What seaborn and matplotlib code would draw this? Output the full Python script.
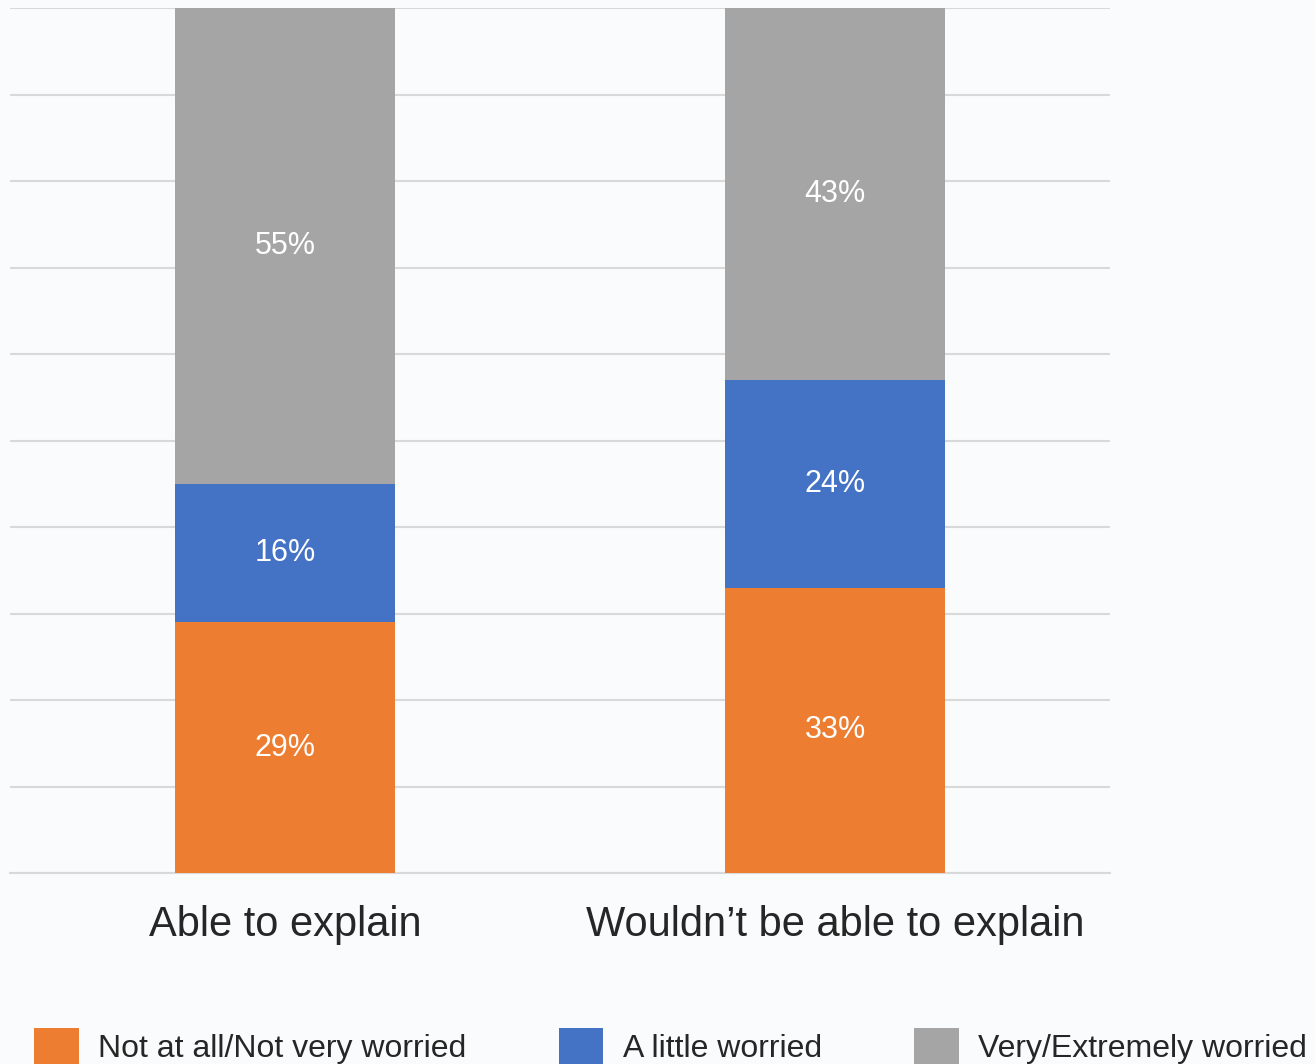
import numpy as np
import pandas as pd
import matplotlib
matplotlib.use('Agg')
import matplotlib.pyplot as plt
import seaborn as sns

# Data (percent of respondents)
groups = ['Able to explain', 'Wouldn\u2019t be able to explain']
levels = ['Not at all/Not very worried', 'A little worried', 'Very/Extremely worried']
not_worried = [29, 33]
little_worried = [16, 24]
very_worried = [55, 43]
colors = ['#ED7D31', '#4472C4', '#A5A5A5']

df = pd.DataFrame({'group': groups,
                   levels[0]: not_worried,
                   levels[1]: little_worried,
                   levels[2]: very_worried})

# cumulative tops for stacking (draw tallest first, overlap the rest)
cum = df[levels].cumsum(axis=1)

sns.set_style('white')
plt.rcParams['font.family'] = ['Liberation Sans', 'DejaVu Sans']

fig = plt.figure(figsize=(13.15, 10.64), dpi=100, facecolor='#FAFBFC')
ax = fig.add_axes([10/1315, 1-873/1064, 1100/1315, 865/1064])
ax.set_facecolor('none')

for lev, col in reversed(list(zip(levels, colors))):
    sns.barplot(x=df['group'], y=cum[lev], color=col, width=0.4,
                saturation=1, ax=ax, label=lev, zorder=3, linewidth=0)

# value labels in the middle of each segment
for i in range(len(groups)):
    bottom = 0
    for lev in levels:
        v = df.loc[i, lev]
        ax.text(i, bottom + v/2, f'{v}%', ha='center', va='center',
                color='white', fontsize=22, zorder=4)
        bottom += v

ax.set_ylim(0, 100)
ax.set_xlim(-0.5, 1.5)
ax.set_yticks(np.arange(0, 101, 10))
ax.yaxis.grid(True, color='#D9D9D9', linewidth=1.5, zorder=0)
ax.set_yticklabels([])
ax.tick_params(axis='y', length=0)
ax.tick_params(axis='x', length=0, pad=23, labelsize=30, labelcolor='#262626')
ax.set_xlabel('')
ax.set_ylabel('')
for s in ['top', 'left', 'right']:
    ax.spines[s].set_visible(False)
ax.spines['bottom'].set_color('#D9D9D9')
ax.spines['bottom'].set_linewidth(1.5)

# legend in original order
handles, labels = ax.get_legend_handles_labels()
order = [labels.index(l) for l in levels]
ax.legend([handles[k] for k in order], levels, loc='upper left',
          bbox_to_anchor=(34/1315, 1-1028/1064), bbox_transform=fig.transFigure,
          ncol=3, frameon=False, fontsize=23, labelcolor='#262626',
          handlelength=1.4, handleheight=1.4, handletextpad=0.6,
          columnspacing=2.9, borderpad=0, borderaxespad=0)

fig.savefig('out.png', dpi=100, facecolor=fig.get_facecolor())
